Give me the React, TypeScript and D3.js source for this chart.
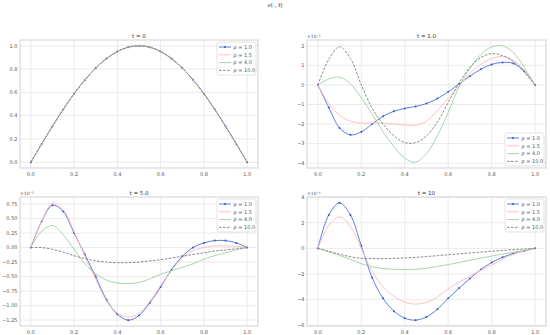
import * as d3 from 'd3';

// x grid shared by every series
const xs = [0, 0.05, 0.1, 0.15, 0.2, 0.25, 0.3, 0.35, 0.4, 0.45, 0.5, 0.55, 0.6, 0.65, 0.7, 0.75, 0.8, 0.85, 0.9, 0.95, 1.0];

const pLabels = ['1.0', '1.5', '4.0', '10.0'];

// t = 0 (all p identical)
const t0Values = [0, 0.156, 0.309, 0.454, 0.588, 0.707, 0.809, 0.891, 0.951, 0.988, 1.0, 0.988, 0.951, 0.891, 0.809, 0.707, 0.588, 0.454, 0.309, 0.156, 0];

// t = 1.0 (x1e-3)
const t1P1 = [0, -1.15, -2.2, -2.55, -2.4, -2.0, -1.6, -1.35, -1.2, -1.1, -0.95, -0.7, -0.35, 0.05, 0.45, 0.8, 1.05, 1.15, 1.1, 0.7, 0];
const t1P15 = [0, -0.95, -1.55, -1.85, -1.95, -1.95, -1.95, -2.0, -2.05, -2.05, -1.85, -1.3, -0.7, -0.05, 0.6, 1.05, 1.35, 1.45, 1.25, 0.75, 0];
const t1P4 = [0, 0.3, 0.4, 0.05, -0.65, -1.5, -2.4, -3.15, -3.75, -3.95, -3.5, -2.6, -1.4, -0.1, 0.85, 1.55, 1.95, 2.0, 1.65, 0.9, 0];
const t1P10 = [0, 1.3, 1.95, 1.35, 0.0, -1.2, -2.0, -2.6, -2.95, -2.95, -2.6, -1.9, -0.9, 0.1, 0.9, 1.4, 1.6, 1.5, 1.2, 0.65, 0];

// t = 5.0 (x1e-3)
const t5P1 = [0, 0.45, 0.73, 0.62, 0.25, -0.12, -0.5, -0.9, -1.15, -1.25, -1.17, -0.95, -0.68, -0.38, -0.15, 0.0, 0.08, 0.12, 0.12, 0.08, 0];
const t5P15 = [0, 0.45, 0.77, 0.65, 0.28, -0.15, -0.55, -0.92, -1.13, -1.2, -1.13, -0.93, -0.65, -0.4, -0.18, -0.05, 0.0, 0.03, 0.03, 0.02, 0];
const t5P4 = [0, 0.28, 0.38, 0.22, -0.03, -0.28, -0.45, -0.56, -0.61, -0.62, -0.6, -0.54, -0.46, -0.4, -0.34, -0.28, -0.2, -0.14, -0.09, -0.04, 0];
const t5P10 = [0, 0.0, -0.03, -0.08, -0.14, -0.19, -0.23, -0.25, -0.26, -0.26, -0.25, -0.23, -0.21, -0.18, -0.15, -0.12, -0.09, -0.06, -0.04, -0.02, 0];

// t = 10 (x1e-4)
const t10P1 = [0, 2.6, 3.55, 2.6, 0.2, -2.3, -3.9, -4.9, -5.45, -5.6, -5.35, -4.75, -3.9, -3.1, -2.35, -1.65, -1.1, -0.7, -0.4, -0.2, 0];
const t10P15 = [0, 1.8, 2.45, 1.7, 0.0, -1.8, -3.0, -3.75, -4.2, -4.35, -4.2, -3.8, -3.15, -2.65, -2.15, -1.7, -1.3, -0.85, -0.45, -0.2, 0];
const t10P4 = [0, -0.28, -0.55, -0.85, -1.2, -1.45, -1.57, -1.63, -1.65, -1.63, -1.55, -1.42, -1.27, -1.1, -0.93, -0.76, -0.6, -0.45, -0.3, -0.15, 0];
const t10P10 = [0, -0.22, -0.45, -0.65, -0.78, -0.8, -0.8, -0.78, -0.75, -0.7, -0.64, -0.57, -0.5, -0.43, -0.36, -0.29, -0.22, -0.16, -0.1, -0.05, 0];

const xTicks = [0, 0.2, 0.4, 0.6, 0.8, 1.0];
const yTicksT0 = [0, 0.2, 0.4, 0.6, 0.8, 1.0];
const yTicksT1 = [-4, -3, -2, -1, 0, 1, 2];
const yTicksT5 = [-1.25, -1.0, -0.75, -0.5, -0.25, 0, 0.25, 0.5, 0.75];
const yTicksT10 = [-6, -4, -2, 0, 2, 4];

const FONT = "'DejaVu Sans', sans-serif";
const TXT = '#555';
const styles = [
  { color: '#4a6fe0', dash: undefined as string | undefined, marker: true },
  { color: '#ffb8b8', dash: undefined, marker: false },
  { color: '#9fd09f', dash: undefined, marker: false },
  { color: '#7f7f7f', dash: '2.6,1.4', marker: false },
];

const minus = (s: string) => s.replace('-', '\u2212');

interface PanelProps {
  box: [number, number, number, number];
  title: string;
  offset?: string;
  series: number[][];
  yTicks: number[];
  yFmt: (v: number) => string;
  legend: 'top' | 'bottom';
}

function Panel({ box, title, offset, series, yTicks, yFmt, legend }: PanelProps) {
  const [x0, y0, x1, y1] = box;
  const x = d3.scaleLinear().domain([-0.05, 1.05]).range([x0, x1]);
  const all = series.flat();
  const lo = d3.min(all)!;
  const hi = d3.max(all)!;
  const pad = (hi - lo) * 0.05;
  const y = d3.scaleLinear().domain([lo - pad, hi + pad]).range([y1, y0]);
  const line = d3
    .line<number>()
    .x((_, i) => x(xs[i]))
    .y((d) => y(d))
    .curve(d3.curveCatmullRom.alpha(0.5));

  const lw = 39;
  const lh = 33;
  const lx = x1 - lw - 2;
  const ly = legend === 'top' ? y0 + 2 : y1 - lh - 2;

  return (
    <g>
      <rect x={x0} y={y0} width={x1 - x0} height={y1 - y0} fill="#fff" />
      {xTicks.map((t) => (
        <g key={'x' + t}>
          <line x1={x(t)} x2={x(t)} y1={y0} y2={y1} stroke="#e6e6e6" strokeWidth={0.8} />
          <text x={x(t)} y={y1 + 7.5} fontSize={5} textAnchor="middle" fill={TXT} fontFamily={FONT}>
            {t.toFixed(1)}
          </text>
        </g>
      ))}
      {yTicks.map((t) => (
        <g key={'y' + t}>
          <line x1={x0} x2={x1} y1={y(t)} y2={y(t)} stroke="#e6e6e6" strokeWidth={0.8} />
          <text x={x0 - 2.5} y={y(t) + 1.8} fontSize={5} textAnchor="end" fill={TXT} fontFamily={FONT}>
            {minus(yFmt(t))}
          </text>
        </g>
      ))}
      <rect x={x0} y={y0} width={x1 - x0} height={y1 - y0} fill="none" stroke="#d9d9d9" strokeWidth={1.2} />
      <text x={(x0 + x1) / 2} y={y0 - 2} fontSize={5.5} textAnchor="middle" fill="#333" fontFamily={FONT}>
        {title}
      </text>
      {offset && (
        <text x={x0} y={y0 - 2.5} fontSize={4.5} fill={TXT} fontFamily={FONT}>
          {offset}
        </text>
      )}
      {series.map((s, k) => (
        <g key={'s' + k}>
          <path d={line(s) ?? ''} fill="none" stroke={styles[k].color} strokeWidth={0.9} strokeDasharray={styles[k].dash} />
          {styles[k].marker &&
            s.map((v, i) => <circle key={i} cx={x(xs[i])} cy={y(v)} r={1} fill="#3558c8" />)}
        </g>
      ))}
      <rect x={lx} y={ly} width={lw} height={lh} rx={2} fill="#fff" fillOpacity={0.85} stroke="#dcdcdc" strokeWidth={0.8} />
      {pLabels.map((p, k) => {
        const ry = ly + 5 + k * 7.8;
        return (
          <g key={'l' + p}>
            <line x1={lx + 2} x2={lx + 14} y1={ry} y2={ry} stroke={styles[k].color} strokeWidth={0.9} strokeDasharray={styles[k].dash} />
            {styles[k].marker && <circle cx={lx + 8} cy={ry} r={1} fill="#3558c8" />}
            <text x={lx + 16.5} y={ry + 1.8} fontSize={5} fill={TXT} fontFamily={FONT}>
              <tspan fontStyle="italic">p</tspan>
              {' = ' + p}
            </text>
          </g>
        );
      })}
    </g>
  );
}

export default function App() {
  return (
    <svg width={550} height={335} style={{ position: 'absolute', left: 0, top: 0, background: '#fff' }}>
      <text x={275} y={7} fontSize={5.5} textAnchor="middle" fill="#333" fontFamily={FONT}>
        <tspan fontStyle="italic">v</tspan>(·, <tspan fontStyle="italic">t</tspan>)
      </text>
      <Panel
        box={[20, 40, 258, 168]}
        title="t = 0"
        series={[t0Values, t0Values, t0Values, t0Values]}
        yTicks={yTicksT0}
        yFmt={(v) => v.toFixed(1)}
        legend="top"
      />
      <Panel
        box={[307, 40, 546, 168]}
        title="t = 1.0"
        offset={'\u00d710\u207b\u00b3'}
        series={[t1P1, t1P15, t1P4, t1P10]}
        yTicks={yTicksT1}
        yFmt={(v) => String(v)}
        legend="bottom"
      />
      <Panel
        box={[20, 197, 258, 326]}
        title="t = 5.0"
        offset={'\u00d710\u207b\u00b3'}
        series={[t5P1, t5P15, t5P4, t5P10]}
        yTicks={yTicksT5}
        yFmt={(v) => v.toFixed(2)}
        legend="top"
      />
      <Panel
        box={[307, 197, 546, 326]}
        title="t = 10"
        offset={'\u00d710\u207b\u2074'}
        series={[t10P1, t10P15, t10P4, t10P10]}
        yTicks={yTicksT10}
        yFmt={(v) => String(v)}
        legend="top"
      />
    </svg>
  );
}
